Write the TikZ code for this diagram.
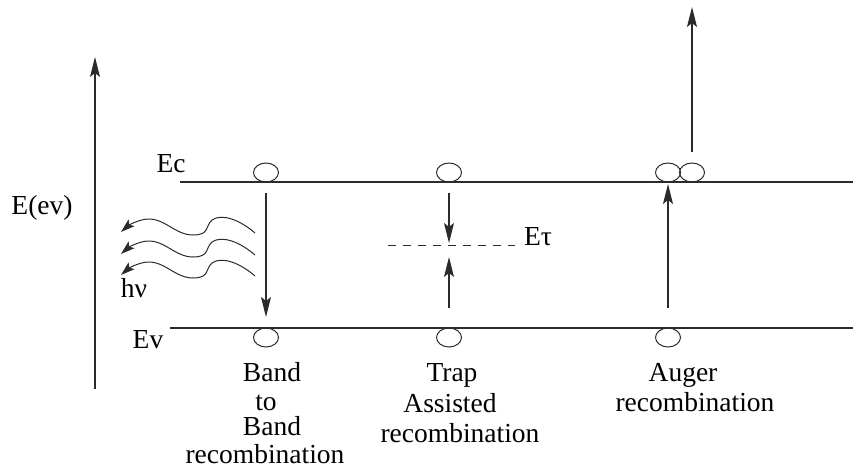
\documentclass[tikz,border=0pt]{standalone}
\usepackage{fontspec}
\setmainfont{Liberation Serif}
\usetikzlibrary{arrows.meta,shapes.geometric}
\definecolor{ink}{HTML}{2B2B2B}
\tikzset{
  lbl/.style={font=\fontsize{27.5}{30}\selectfont, text=black, inner sep=0pt, anchor=base},
  carrier/.style={draw=ink, line width=1pt, ellipse, minimum width=25pt, minimum height=19pt, inner sep=0pt},
  band/.style={draw=ink, line width=1.2pt},
  arr/.style={draw=ink, line width=1.2pt, -{Stealth[length=20pt,width=10pt,inset=4pt]}},
  photon/.style={draw=ink, line width=1pt, -{Stealth[length=14pt,width=9pt,inset=3pt]}}
}
\begin{document}
\begin{tikzpicture}[x=1pt,y=-1pt]
\useasboundingbox (0,0) rectangle (853,468);

% energy axis
\coordinate (axb) at (95,389);
\coordinate (axt) at (95,57);
\draw[arr] (axb) -- (axt);
\node[lbl] (eev) at (42,214) {E(ev)};

% band edges
\coordinate (ecl) at (180,182);
\coordinate (ecr) at (853,182);
\coordinate (evl) at (170,328);
\coordinate (evr) at (853,328);
\draw[band] (ecl) -- (ecr);
\draw[band] (evl) -- (evr);
\node[lbl] (ec) at (171,172) {Ec};
\node[lbl] (ev) at (148,348) {Ev};

% band to band
\node[carrier] (b1) at (266,172.5) {};
\node[carrier] (b2) at (266,337.5) {};
\coordinate (b1s) at (266,193);
\coordinate (b2e) at (266,317);
\draw[arr] (b1s) -- (b2e);
\foreach \dy/\nm in {0/p1,22/p2,43/p3}{
  \coordinate (\nm s) at (255,{233+\dy});
  \coordinate (\nm e) at (121,{232+\dy});
  \draw[photon] (\nm s) .. controls (240,{220+\dy}) and (222,{213+\dy}) .. (212,{220+\dy})
    .. controls (205,{226+\dy}) and (210,{235+\dy}) .. (193,{235+\dy})
    .. controls (175,{235+\dy}) and (165,{218+\dy}) .. (147,{219+\dy})
    .. controls (138,{220+\dy}) and (129,{225+\dy}) .. (\nm e);
}
\node[lbl] (hv) at (134,297) {hν};

% trap assisted
\node[carrier] (t1) at (449,172.5) {};
\node[carrier] (t2) at (449,337.5) {};
\coordinate (tl) at (388,245);
\coordinate (tr) at (515,245);
\draw[ink, line width=1pt, dash pattern=on 8pt off 7pt] (tl) -- (tr);
\coordinate (t1s) at (449,193);
\coordinate (tm1) at (449,243);
\coordinate (t2s) at (449,308);
\coordinate (tm2) at (449,257);
\draw[arr] (t1s) -- (tm1);
\draw[arr] (t2s) -- (tm2);
\node[lbl] (et) at (538,245) {Eτ};

% auger
\node[carrier] (a1) at (668,172.5) {};
\node[carrier] (a2) at (692,172.5) {};
\node[carrier] (a3) at (668,337.5) {};
\coordinate (a2t) at (692,7);
\coordinate (a2s) at (692,152);
\draw[arr] (a2s) -- (a2t);
\coordinate (a3s) at (668,308);
\coordinate (a1e) at (668,184);
\draw[arr] (a3s) -- (a1e);

% captions
\node[lbl] (c1) at (272,381) {Band};
\node[lbl] (c2) at (266,410) {to};
\node[lbl] (c3) at (272,435) {Band};
\node[lbl] (c4) at (265,463) {recombination};
\node[lbl] (c5) at (452,381) {Trap};
\node[lbl] (c6) at (450,412) {Assisted};
\node[lbl] (c7) at (460,442) {recombination};
\node[lbl] (c8) at (683,381) {Auger};
\node[lbl] (c9) at (695,411) {recombination};
\end{tikzpicture}
\end{document}
